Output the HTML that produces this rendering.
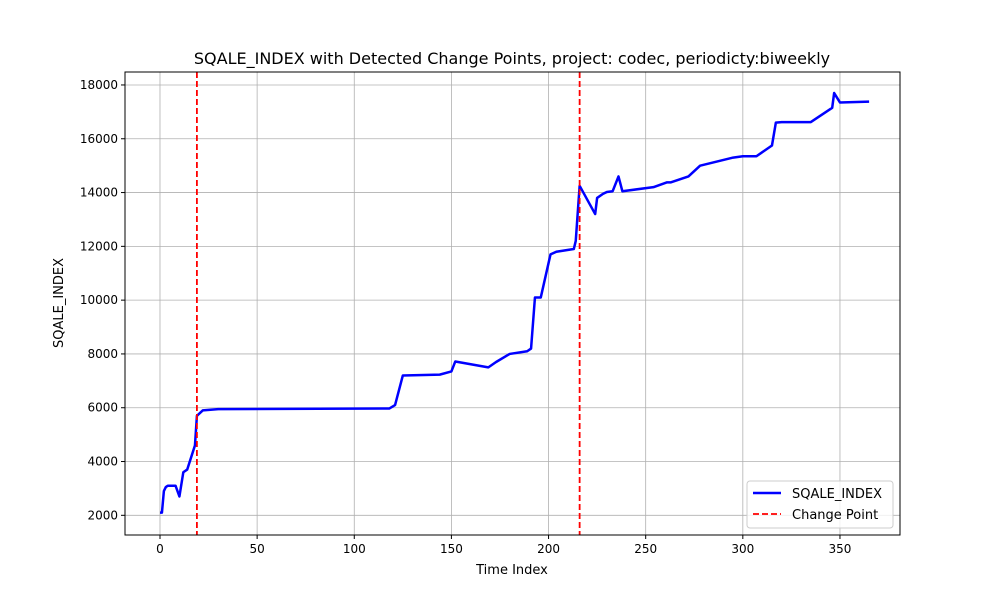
<!DOCTYPE html>
<html><head><meta charset="utf-8"><style>
body{margin:0;background:#fff;}
svg text{font-family:"DejaVu Sans","Liberation Sans",sans-serif;fill:#000;}
</style></head><body>
<svg id="chart" width="1000" height="600" xmlns="http://www.w3.org/2000/svg">
<rect width="1000" height="600" fill="#fff"/>
<g id="grid"></g>
<g id="series"></g>
<rect x="125" y="72" width="775" height="463" fill="none" stroke="#000" stroke-width="1"/>
<g id="ticks"></g>
<text x="512" y="64" font-size="16" text-anchor="middle">SQALE_INDEX with Detected Change Points, project: codec, periodicty:biweekly</text>
<text x="512" y="574" font-size="13" text-anchor="middle">Time Index</text>
<text x="63" y="303" font-size="13" text-anchor="middle" transform="rotate(-90 63 303)">SQALE_INDEX</text>
<g>
<rect x="747" y="481" width="146" height="47" rx="3" fill="#fff" fill-opacity="0.8" stroke="#ccc"/>
<g><line x1="753" y1="493" x2="781" y2="493" stroke="#0000ff" stroke-width="2.5"/><text x="792" y="498" font-size="13">SQALE_INDEX</text></g>
<g><line x1="753" y1="514" x2="781" y2="514" stroke="#ff0000" stroke-width="1.8" stroke-dasharray="6,3"/><text x="792" y="519" font-size="13">Change Point</text></g>
</g>
</svg>
<script>
const xs=[0,1,2,3,4,8,10,12,14,18,19,22,30,118,121,125,144,150,152,169,173,180,189,191,193,196,201,204,213,214,216,224,225,228,230,233,236,238,254,261,263,272,278,295,300,307,315,317,320,335,346,347,350,365];
const ys=[2100,2100,2900,3050,3100,3100,2700,3600,3700,4600,5700,5900,5950,5970,6100,7200,7230,7350,7720,7500,7700,8000,8100,8200,10100,10100,11700,11800,11900,12200,14250,13200,13800,13950,14020,14050,14600,14050,14200,14380,14380,14600,15000,15300,15350,15350,15750,16600,16620,16620,17150,17700,17350,17380];
const changePoints=[19,216];
const xTicks=[0,50,100,150,200,250,300,350];
const yTicks=[2000,4000,6000,8000,10000,12000,14000,16000,18000];
const NS="http://www.w3.org/2000/svg";
const X0=125,X1=900,Y0=72,Y1=535,xmin=-18.01,xmax=380.9,ymin=1268,ymax=18482;
function sx(v){return X0+(v-xmin)/(xmax-xmin)*(X1-X0);}
function sy(v){return Y1-(v-ymin)/(ymax-ymin)*(Y1-Y0);}
function mk(t,a,p){const e=document.createElementNS(NS,t);for(const k in a)e.setAttribute(k,a[k]);p.appendChild(e);return e;}
const grid=document.getElementById('grid'),ticks=document.getElementById('ticks'),ser=document.getElementById('series');
xTicks.forEach(v=>{const x=sx(v);
 const g=mk('line',{x1:x,x2:x,y1:Y0,y2:Y1,stroke:'#b0b0b0','stroke-width':0.8},grid);
 
 
 mk('line',{x1:x,x2:x,y1:Y1,y2:Y1+4,stroke:'#000'},ticks);
 const t=mk('text',{x:x,y:Y1+18,'font-size':12,'text-anchor':'middle'},ticks);t.textContent=v;
 
 });
yTicks.forEach(v=>{const y=sy(v);
 const g=mk('line',{x1:X0,x2:X1,y1:y,y2:y,stroke:'#b0b0b0','stroke-width':0.8},grid);
 
 
 mk('line',{x1:X0-4,x2:X0,y1:y,y2:y,stroke:'#000'},ticks);
 const t=mk('text',{x:X0-7,y:y+4,'font-size':12,'text-anchor':'end'},ticks);t.textContent=v;
 
 });
const pl=mk('polyline',{points:xs.map((v,i)=>sx(v)+','+sy(ys[i])).join(' '),fill:'none',stroke:'#0000ff','stroke-width':2.5,'stroke-linejoin':'round'},ser);


changePoints.forEach(v=>{const l=mk('line',{x1:sx(v),x2:sx(v),y1:Y0,y2:Y1,stroke:'#ff0000','stroke-width':1.8,'stroke-dasharray':'6,3'},ser);
 
 });
</script>
</body></html>
